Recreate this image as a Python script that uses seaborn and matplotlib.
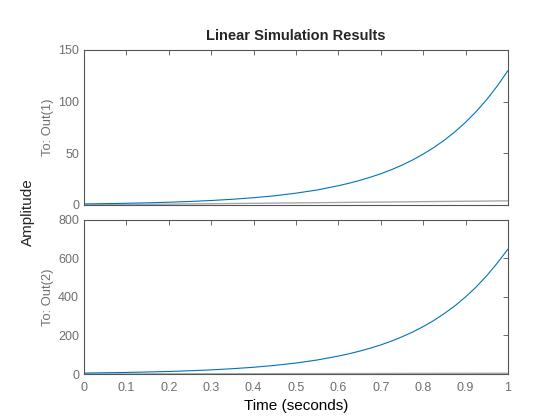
import numpy as np
import pandas as pd
import matplotlib
matplotlib.use("Agg")
import matplotlib.pyplot as plt
import seaborn as sns

# time samples (s) and responses
time = [0.00, 0.05, 0.10, 0.15, 0.20, 0.25, 0.30, 0.35, 0.40, 0.45, 0.50,
        0.55, 0.600, 0.625, 0.650, 0.675, 0.700, 0.725, 0.750, 0.775,
        0.800, 0.825, 0.850, 0.875, 0.900, 0.925, 0.950, 0.975, 1.000]
out1 = [1.0, 1.28, 1.63, 2.08, 2.65, 3.38, 4.31, 5.5, 7.0, 8.9, 11.4,
        14.5, 18.6, 21.0, 23.7, 26.8, 30.2, 34.1, 38.5, 43.5,
        49.2, 55.5, 62.7, 70.8, 80.0, 90.3, 102.0, 115.2, 130.0]
out2 = [5.0, 6.4, 8.1, 10.4, 13.2, 16.9, 21.5, 27.5, 35.0, 44.7, 57.0,
        72.7, 93.0, 105.0, 118.5, 134.0, 151.0, 170.5, 193.0, 217.5,
        246.0, 277.5, 314.0, 354.0, 400.0, 451.5, 510.0, 576.0, 648.0]
input_t = [0.0, 1.0]
input_u = [0.0, 4.0]

out_labels = ["To: Out(1)", "To: Out(2)"]
ylims = [(0, 150), (0, 800)]
yticks = [[0, 50, 100, 150], [0, 200, 400, 600, 800]]
xticks = [0, 0.1, 0.2, 0.3, 0.4, 0.5, 0.6, 0.7, 0.8, 0.9, 1]

sns.set_style("white")
plt.rcParams["font.family"] = ["Liberation Sans", "DejaVu Sans"]

resp = pd.DataFrame({"t": time * 2, "y": out1 + out2,
                     "out": [0] * len(time) + [1] * len(time)})
inp = pd.DataFrame({"t": input_t, "u": input_u})

FRAME = "#555555"
LABEL = "#6e6e6e"

fig = plt.figure(figsize=(5.6, 4.2), dpi=100)
ax1 = fig.add_axes([0.15, 0.512, 0.757, 0.369])
ax2 = fig.add_axes([0.15, 0.1095, 0.757, 0.367])

for i, ax in enumerate([ax1, ax2]):
    sns.lineplot(data=inp, x="t", y="u", ax=ax, color="#a8a8a8", lw=1.0)
    sns.lineplot(data=resp[resp["out"] == i], x="t", y="y", ax=ax,
                 color="#0072BD", lw=0.8)
    ax.set_xlim(0, 1)
    ax.set_ylim(*ylims[i])
    ax.set_yticks(yticks[i])
    ax.set_xticks(xticks)
    ax.set_xticklabels([("%g" % v) for v in xticks])
    ax.tick_params(direction="in", top=True, right=True, length=3.5,
                   width=0.6, colors=FRAME, labelcolor=LABEL,
                   labelsize=9)
    ax.tick_params(axis="x", pad=5.5)
    for s in ax.spines.values():
        s.set_color(FRAME)
        s.set_linewidth(0.8)
    ax.set_ylabel(out_labels[i], color=LABEL, fontsize=9.3, labelpad=3)
    ax.set_xlabel("")

ax1.tick_params(labelbottom=False)
ax2.set_xlabel("Time (seconds)", fontsize=11, color="black", labelpad=4)
ax1.set_title("Linear Simulation Results", fontsize=10.5, fontweight="bold",
              pad=7)
fig.text(0.05, 0.495, "Amplitude", rotation=90, va="center", ha="center",
         fontsize=11)

fig.savefig("out.png", dpi=100)
